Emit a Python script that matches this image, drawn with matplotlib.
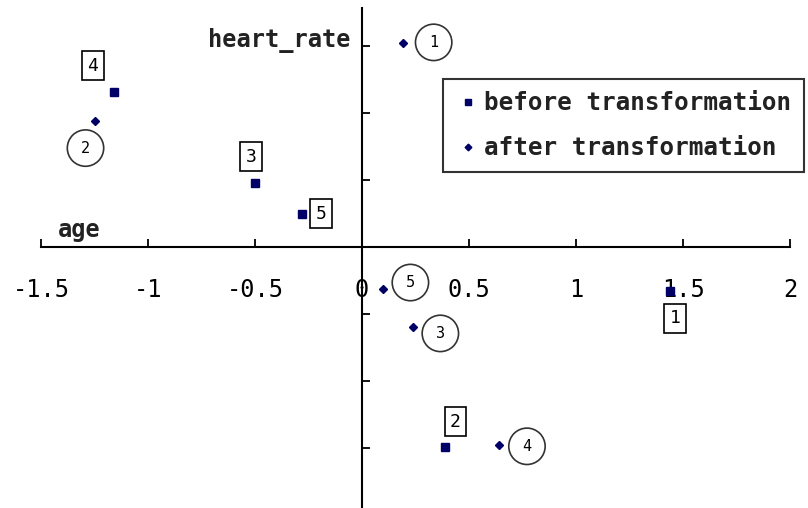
import matplotlib
matplotlib.use("Agg")
import matplotlib.pyplot as plt

# point labels
labels = ["1", "2", "3", "4", "5"]

# standardized (age, heart_rate) before transformation
before_x = [1.44, 0.39, -0.50, -1.16, -0.28]
before_y = [-0.33, -1.49, 0.48, 1.16, 0.25]

# after transformation
after_x = [0.19, -1.25, 0.24, 0.64, 0.10]
after_y = [1.52, 0.94, -0.60, -1.48, -0.31]

xticks = [-1.5, -1, -0.5, 0, 0.5, 1, 1.5, 2]
xticklabels = ["-1.5", "-1", "-0.5", "0", "0.5", "1", "1.5", "2"]
yticks = [-1.5, -1, -0.5, 0.5, 1, 1.5]

# label offsets in pixels (layout only)
before_off = [(5, -27), (10, 25), (-4, 26), (-21, 26), (19, 0)]
after_off = [(31, 1), (-9, -27), (27, -6), (28, -1), (27, 6)]

navy = "#000066"
mono = "DejaVu Sans Mono"

fig = plt.figure(figsize=(8.08, 5.08), dpi=100)
ax = fig.add_axes([41 / 808, 0, 749 / 808, 500 / 508])

ax.plot(before_x, before_y, "s", color=navy, markersize=5.5, linestyle="none",
        label="before transformation")
ax.plot(after_x, after_y, "D", color=navy, markersize=4, linestyle="none",
        label="after transformation")

for i, lab in enumerate(labels):
    ax.annotate(lab, (before_x[i], before_y[i]), xytext=before_off[i],
                textcoords="offset pixels", ha="center", va="center",
                fontsize=13, family=mono,
                bbox=dict(boxstyle="square,pad=0.3", fc="white", ec="black", lw=1.2))
    ax.annotate(lab, (after_x[i], after_y[i]), xytext=after_off[i],
                textcoords="offset pixels", ha="center", va="center",
                fontsize=11, family=mono,
                bbox=dict(boxstyle="circle,pad=0.7", fc="white", ec="#333333", lw=1.2))

ax.set_xlim(-1.5, 2)
ax.set_ylim(-1.948, 1.784)

for side in ["top", "right"]:
    ax.spines[side].set_visible(False)
ax.spines["left"].set_position(("data", 0))
ax.spines["bottom"].set_position(("data", 0))
ax.spines["left"].set_linewidth(1.5)
ax.spines["bottom"].set_linewidth(1.5)

ax.set_xticks(xticks)
ax.set_xticklabels(xticklabels, family=mono, fontsize=17)
ax.set_yticks(yticks)
ax.set_yticklabels([])
ax.tick_params(axis="x", direction="in", length=6, width=1.3, pad=22)
ax.tick_params(axis="y", direction="in", length=6, width=1.3)

ax.text(-0.056, 1.545, "heart_rate", ha="right", va="center",
        fontsize=17, family=mono, fontweight="bold", color="#222222")
ax.text(-1.42, 0.127, "age", ha="left", va="center",
        fontsize=17, family=mono, fontweight="bold", color="#222222")

leg = ax.legend(loc="upper left", bbox_to_anchor=(443 / 808, 1 - 79 / 508),
                bbox_transform=fig.transFigure, frameon=True, fancybox=False,
                prop={"family": mono, "size": 17.5, "weight": "bold"},
                handlelength=1.05, handletextpad=0.15, labelspacing=0.87,
                borderpad=0.5, borderaxespad=0, markerscale=0.85)
leg.get_frame().set_edgecolor("black")
leg.get_frame().set_linewidth(1.5)
for t in leg.get_texts():
    t.set_color("#222222")

fig.savefig("out.png", dpi=100)
